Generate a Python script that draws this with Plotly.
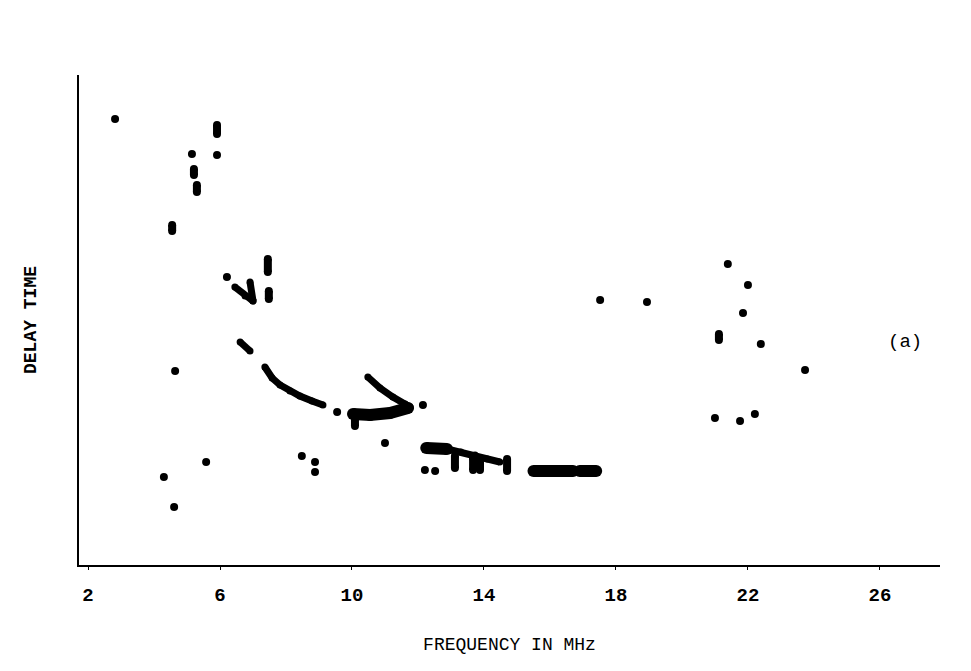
import plotly.graph_objects as go

# ---- data (frequency in MHz, delay time in arbitrary units) ----
freq_ticks = [2, 6, 10, 14, 18, 22, 26]

dot_freq = [2.82, 5.91, 5.15, 6.21, 4.64, 4.30, 4.61, 5.58, 8.48, 8.88, 8.88,
            11.0, 12.15, 9.55, 17.52, 18.94, 21.39, 22.0, 21.85, 22.39,
            23.73, 21.0, 21.76, 22.21, 12.21, 12.52]
dot_delay = [446, 410, 411, 288, 194, 88, 58, 103, 109, 103, 93,
             122, 160, 153, 265, 263, 301, 280, 252, 221,
             195, 147, 144, 151, 95, 94]

# short vertical / elongated echoes
dash_freq = [[5.91, 5.91], [5.21, 5.21], [5.30, 5.30], [4.55, 4.55],
             [7.45, 7.45], [7.48, 7.48], [10.09, 10.09], [14.7, 14.7],
             [13.12, 13.12], [13.67, 13.67], [13.88, 13.88], [21.12, 21.12]]
dash_delay = [[440, 431], [396, 390], [380, 373], [340, 334],
              [306, 293], [274, 266], [150, 139], [106, 94],
              [109, 97], [107, 95], [106, 95], [231, 225]]

# traced echo curves
trace_freq = [[6.45, 6.76, 7.0], [6.91, 7.0], [6.61, 6.91],
              [7.36, 7.58, 7.82, 8.12, 8.42, 8.79, 9.12],
              [10.48, 10.85, 11.24, 11.61, 11.76],
              [12.88, 13.3, 13.73, 14.1, 14.48]]
trace_delay = [[278, 269, 264], [283, 264], [223, 214],
               [198, 187, 180, 174, 169, 164, 160],
               [188, 177, 168, 161, 158],
               [116, 113, 110, 106, 103]]

# heavy blobs
blob_freq = [[10.03, 10.55, 11.15, 11.7], [12.25, 12.88], [15.5, 16.7], [16.9, 17.4]]
blob_delay = [[151, 150, 152, 157], [117, 116], [94, 94], [94, 94]]

fig = go.Figure()

for fx, dy in zip(blob_freq, blob_delay):
    fig.add_trace(go.Scatter(x=fx, y=dy, mode="lines+markers",
                             line=dict(color="black", width=12),
                             marker=dict(color="black", size=12),
                             showlegend=False, hoverinfo="skip"))
for fx, dy in zip(trace_freq, trace_delay):
    fig.add_trace(go.Scatter(x=fx, y=dy, mode="lines+markers",
                             line=dict(color="black", width=7),
                             marker=dict(color="black", size=7),
                             showlegend=False, hoverinfo="skip"))
for fx, dy in zip(dash_freq, dash_delay):
    fig.add_trace(go.Scatter(x=fx, y=dy, mode="lines+markers",
                             line=dict(color="black", width=8),
                             marker=dict(color="black", size=8),
                             showlegend=False, hoverinfo="skip"))
fig.add_trace(go.Scatter(x=dot_freq, y=dot_delay, mode="markers",
                         marker=dict(color="black", size=8),
                         showlegend=False, hoverinfo="skip"))

mono = "Liberation Mono, Courier New, monospace"

fig.update_layout(
    width=971, height=671,
    margin=dict(l=79, r=31, t=75, b=106),
    paper_bgcolor="white", plot_bgcolor="white",
    font=dict(family=mono, color="black"),
    xaxis=dict(range=[1.727, 27.82], tickvals=freq_ticks,
               ticktext=["<b>%d</b>" % v for v in freq_ticks],
               showgrid=False, zeroline=False,
               showline=True, linecolor="black", linewidth=2,
               ticks="outside", ticklen=3, tickcolor="black",
               ticklabelstandoff=8,
               tickfont=dict(size=19, family=mono),
               title=dict(text="FREQUENCY IN MHz", font=dict(size=18, family=mono),
                          standoff=32)),
    yaxis=dict(range=[0, 490], showticklabels=False, ticks="",
               showgrid=False, zeroline=False,
               showline=True, linecolor="black", linewidth=2,
               title=dict(text="<b>DELAY TIME</b>", font=dict(size=18, family=mono),
                          standoff=36)),
)

fig.add_annotation(text="(a)", xref="paper", yref="paper",
                   x=(905 - 79) / (940 - 79), y=(565 - 342) / 490.0,
                   xanchor="center", yanchor="middle", showarrow=False,
                   font=dict(size=19, family=mono, color="black"))

fig.write_html("out.html")
